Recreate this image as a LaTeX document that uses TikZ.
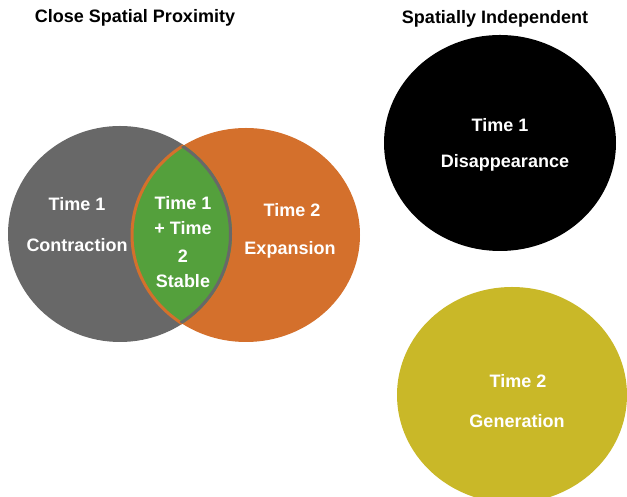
\documentclass[tikz,border=0pt]{standalone}
\usepackage{fontspec}
\setmainfont{Liberation Sans}
\definecolor{cgray}{RGB}{104,104,104}
\definecolor{corange}{RGB}{212,112,44}
\definecolor{cgreen}{RGB}{84,160,60}
\definecolor{cyellow}{RGB}{201,184,40}
\tikzset{
  lbl/.style={text=white,font=\fontsize{18}{21}\selectfont\bfseries,inner sep=0pt,align=center},
  ttl/.style={text=black,font=\fontsize{18}{21}\selectfont\bfseries,inner sep=0pt}
}
\begin{document}
\begin{tikzpicture}[x=1pt,y=1pt]
\useasboundingbox (0,0) rectangle (627,497);
\fill[white] (0,0) rectangle (627,497);
% Venn
\fill[cgray] (120,263) ellipse [x radius=112,y radius=108];
\fill[corange] (246,262) ellipse [x radius=114,y radius=107];
\begin{scope}
  \clip (120,263) ellipse [x radius=112,y radius=108];
  \fill[cgreen] (246,262) ellipse [x radius=114,y radius=107];
  \draw[corange,line width=3] (246,262) ellipse [x radius=114,y radius=107];
\end{scope}
\begin{scope}
  \clip (246,262) ellipse [x radius=114,y radius=107];
  \draw[cgray,line width=3] (120,263) ellipse [x radius=110.5,y radius=106.5];
\end{scope}
% independent
\fill[black] (500,354) ellipse [x radius=116,y radius=108];
\fill[cyellow] (512,102) ellipse [x radius=115,y radius=108];
% titles
\node[ttl] (t1) at (135,479) {Close Spatial Proximity};
\node[ttl] (t2) at (495,478) {Spatially Independent};
% labels
\node[lbl] (g1) at (77,293) {Time 1};
\node[lbl] (g2) at (77,252) {Contraction};
\node[lbl] (s1) at (183,294) {Time 1};
\node[lbl] (s2) at (183,269) {+ Time};
\node[lbl] (s3) at (183,241) {2};
\node[lbl] (s4) at (183,216) {Stable};
\node[lbl] (o1) at (292,287) {Time 2};
\node[lbl] (o2) at (290,247) {Expansion};
\node[lbl] (b1) at (500,372) {Time 1};
\node[lbl] (b2) at (505,334) {Disappearance};
\node[lbl] (y1) at (518,116) {Time 2};
\node[lbl] (y2) at (517,76) {Generation};
\end{tikzpicture}
\end{document}
